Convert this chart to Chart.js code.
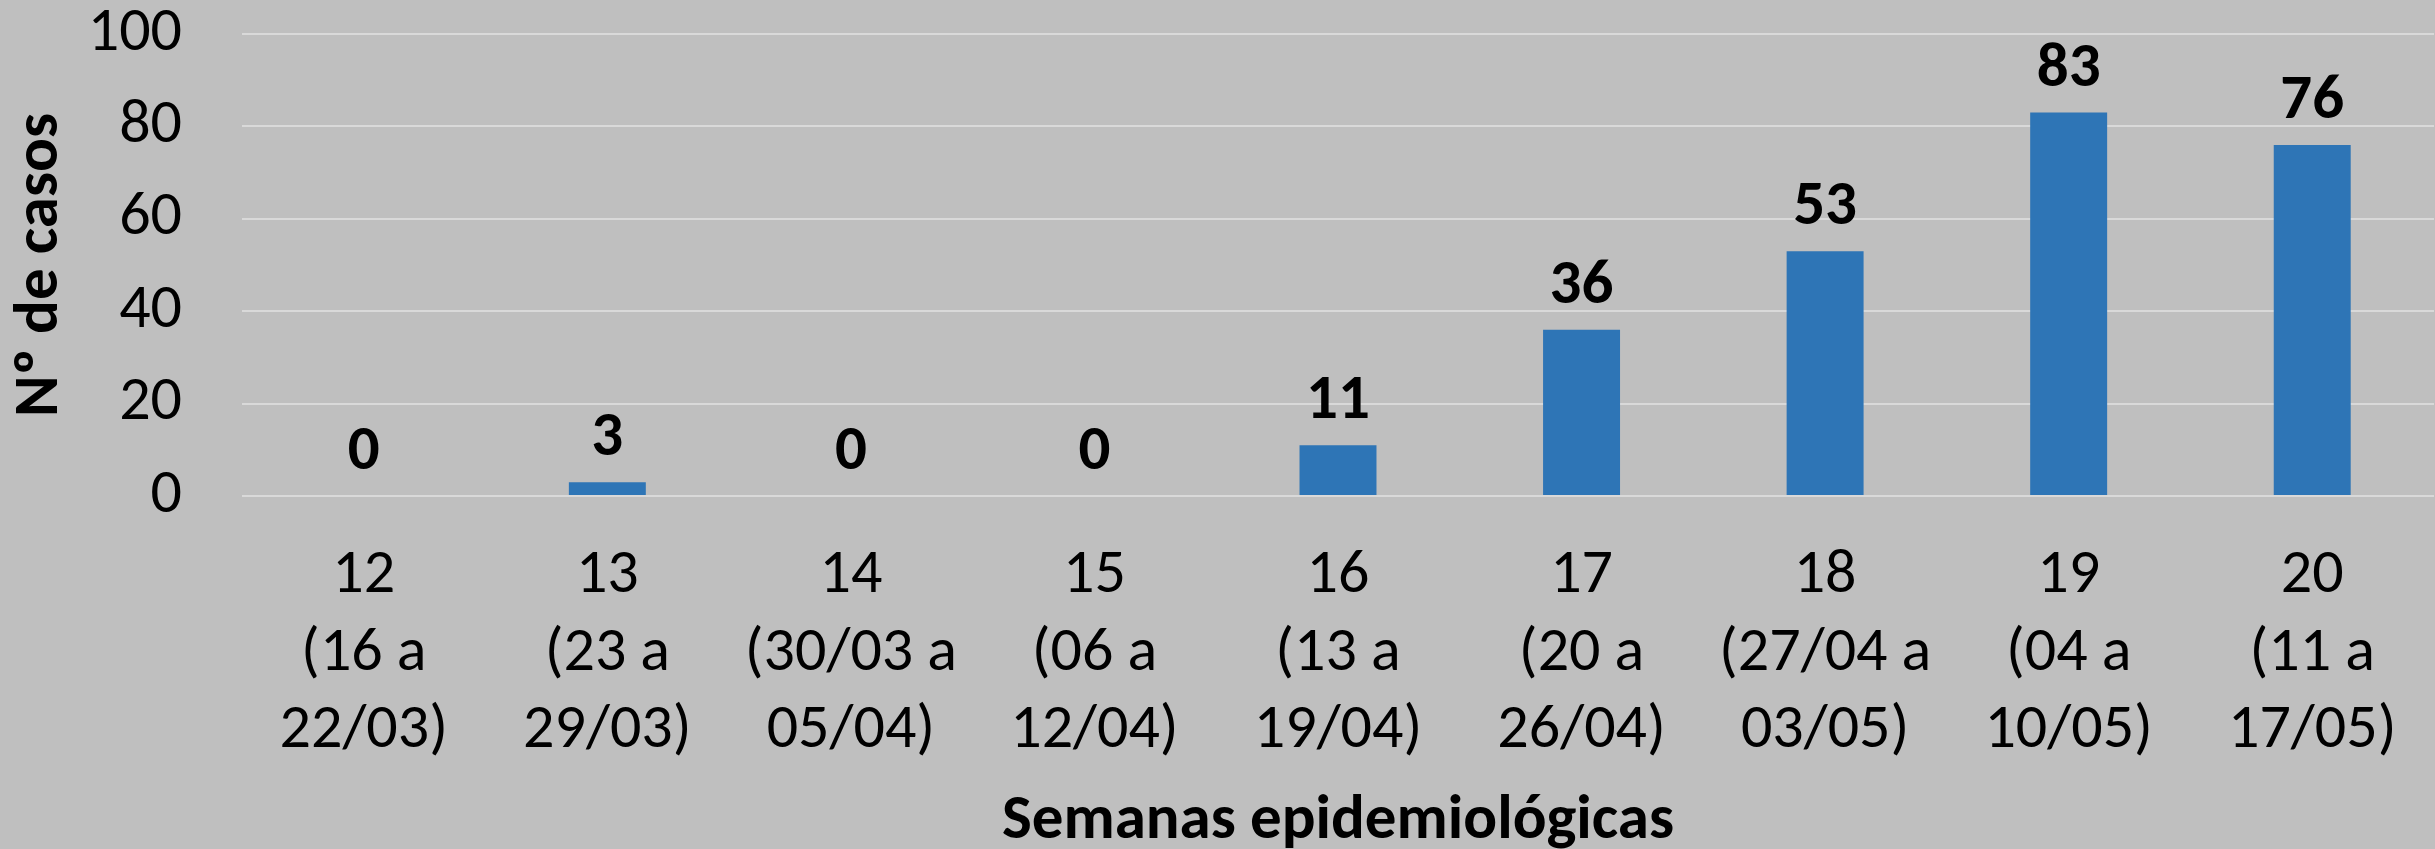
<!DOCTYPE html>
<html>
<head>
<meta charset="utf-8">
<script src="https://cdn.jsdelivr.net/npm/chart.js"></script>
<style>
  html, body { margin: 0; padding: 0; background: #BFBFBF; overflow: hidden; }
  #wrap { width: 2435px; height: 849px; }
  canvas { display: block; background: #BFBFBF; }
</style>
</head>
<body>
<div id="wrap"><canvas id="c" width="2435" height="849"></canvas></div>
<script>
// ---- data ----
const weekNumbers = ['12', '13', '14', '15', '16', '17', '18', '19', '20'];
const rangeStart  = ['(16 a', '(23 a', '(30/03 a', '(06 a', '(13 a', '(20 a', '(27/04 a', '(04 a', '(11 a'];
const rangeEnd    = ['22/03)', '29/03)', '05/04)', '12/04)', '19/04)', '26/04)', '03/05)', '10/05)', '17/05)'];
const cases       = [0, 3, 0, 0, 11, 36, 53, 83, 76];
const yMin = 0, yMax = 100, yStep = 20;
const yTitle = 'Nº de casos';
const xTitle = 'Semanas epidemiológicas';

// ---- font detection ----
function hasFont(name) {
  const c = document.createElement('canvas').getContext('2d');
  const s = 'abcdefghijklmnopqrstuvwxyz0123456789ABCDEFGHIJ';
  let diff = true;
  for (const base of ['monospace', 'serif']) {
    c.font = '72px ' + base;
    const w0 = c.measureText(s).width;
    c.font = '72px "' + name + '", ' + base;
    const w1 = c.measureText(s).width;
    if (Math.abs(w0 - w1) < 0.5) diff = false;
  }
  return diff;
}
const useCarlito = hasFont('Carlito');
const FAMILY = useCarlito ? 'Carlito' : '"Open Sans"';
const SZ = useCarlito
  ? { tick: 62, label: 63, title: 63 }
  : { tick: 56, label: 58, title: 54 };

const labels = weekNumbers.map((w, i) => [w, rangeStart[i], rangeEnd[i]]);

const dataLabelPlugin = {
  id: 'valueLabels',
  afterDatasetsDraw(chart) {
    const ctx = chart.ctx;
    const meta = chart.getDatasetMeta(0);
    ctx.save();
    ctx.font = 'bold ' + SZ.label + 'px ' + FAMILY;
    ctx.fillStyle = '#000000';
    ctx.textAlign = 'center';
    ctx.textBaseline = 'alphabetic';
    meta.data.forEach((bar, i) => {
      ctx.fillText(String(chart.data.datasets[0].data[i]), bar.x, bar.y - 27);
    });
    ctx.restore();
  }
};

Chart.defaults.font.family = FAMILY;
Chart.defaults.color = '#000000';

new Chart(document.getElementById('c'), {
  type: 'bar',
  data: {
    labels: labels,
    datasets: [{
      data: cases,
      backgroundColor: '#2E75B6',
      borderWidth: 0,
      categoryPercentage: 1.0,
      barPercentage: 0.316
    }]
  },
  options: {
    responsive: false,
    animation: false,
    devicePixelRatio: 1,
    layout: { padding: { left: 0, right: 1, top: 34, bottom: 0 } },
    plugins: {
      legend: { display: false },
      tooltip: { enabled: false },
      title: { display: false }
    },
    scales: {
      x: {
        grid: { display: false, drawTicks: false },
        border: { display: false },
        ticks: {
          font: { size: SZ.tick, lineHeight: 1.25 },
          color: '#000000',
          padding: 42,
          maxRotation: 0,
          minRotation: 0,
          autoSkip: false
        },
        title: {
          display: true,
          text: xTitle,
          color: '#000000',
          font: { size: SZ.title, weight: 'bold', lineHeight: 0.85 },
          padding: { top: 0, bottom: 0 }
        },
        afterFit(scale) {
          scale.height = 353;
          scale.paddingLeft = 0;
          scale.paddingRight = 0;
        }
      },
      y: {
        min: yMin,
        max: yMax,
        grid: { color: '#D9D9D9', lineWidth: 2, drawTicks: false },
        border: { display: false },
        ticks: {
          stepSize: yStep,
          font: { size: SZ.tick },
          color: '#000000',
          padding: 60
        },
        title: {
          display: true,
          text: yTitle,
          color: '#000000',
          font: { size: SZ.title, weight: 'bold', lineHeight: 1 },
          padding: { top: 10, bottom: 0 }
        },
        afterFit(scale) {
          scale.width = 242;
          scale.paddingTop = 0;
          scale.paddingBottom = 0;
        }
      }
    }
  },
  plugins: [dataLabelPlugin]
});
</script>
</body>
</html>
